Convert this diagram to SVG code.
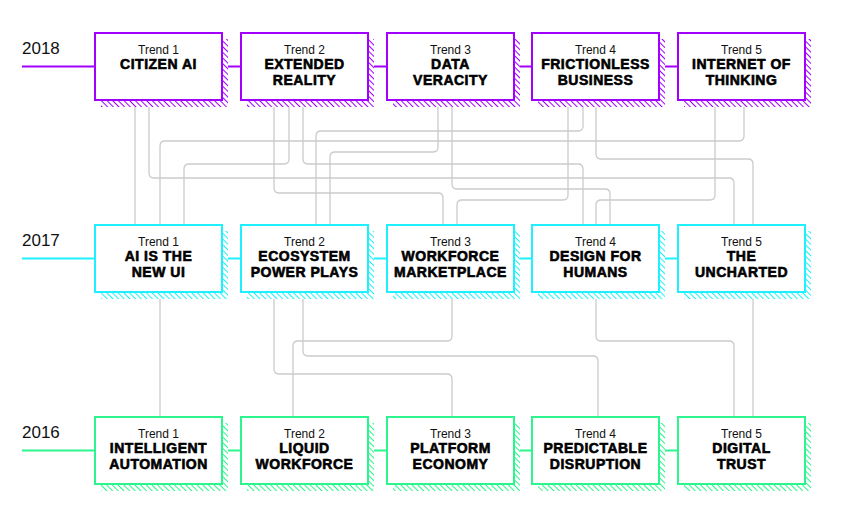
<svg xmlns="http://www.w3.org/2000/svg" width="841" height="515" viewBox="0 0 841 515">
<defs>
<pattern id="hp" patternUnits="userSpaceOnUse" width="4" height="4" patternTransform="rotate(-45)"><line x1="0" y1="0" x2="0" y2="4" stroke="#a100ff" stroke-width="2"/></pattern>
<pattern id="hc" patternUnits="userSpaceOnUse" width="4" height="4" patternTransform="rotate(-45)"><line x1="0" y1="0" x2="0" y2="4" stroke="#1ef0ff" stroke-width="2"/></pattern>
<pattern id="hg" patternUnits="userSpaceOnUse" width="4" height="4" patternTransform="rotate(-45)"><line x1="0" y1="0" x2="0" y2="4" stroke="#2cf58e" stroke-width="2"/></pattern>
</defs>
<style>
.yr{font-family:"Liberation Sans",Arial,sans-serif;font-size:17px;fill:#111}
.lbl{font-family:"Liberation Sans",Arial,sans-serif;text-anchor:middle}
.tr{font-size:12px;fill:#111}
.tt{font-size:14px;letter-spacing:0.5px;font-weight:bold;fill:#000;stroke:#000;stroke-width:0.6}
.box{fill:#fff;stroke-width:2}
.p .box{stroke:#a100ff}.p .sh{fill:url(#hp)}
.c .box{stroke:#1ef0ff}.c .sh{fill:url(#hc)}
.g .box{stroke:#2cf58e}.g .sh{fill:url(#hg)}
.cn path{fill:none;stroke:#cbcbcb;stroke-width:1.3}
.lp{stroke:#a100ff;stroke-width:2}.lc{stroke:#1ef0ff;stroke-width:2}.lg{stroke:#2cf58e;stroke-width:2}
</style>
<rect width="841" height="515" fill="#fff"/>
<g id="years">
<text class="yr" x="22" y="54">2018</text>
<text class="yr" x="22" y="246">2017</text>
<text class="yr" x="22" y="438">2016</text>
</g>
<g id="timelines">
<path class="lp" d="M22 66.5H95M228 66.5H241M374 66.5H387M520 66.5H532M665 66.5H678"/>
<path class="lc" d="M22 258.5H95M228 258.5H241M374 258.5H387M520 258.5H532M665 258.5H678"/>
<path class="lg" d="M22 450.5H95M228 450.5H241M374 450.5H387M520 450.5H532M665 450.5H678"/>
</g>
<g id="connectors" class="cn">
<path d="M135 107V225"/>
<path d="M149 107V173Q149 178 154 178H729Q734 178 734 183V225"/>
<path d="M274 107V188Q274 193 279 193H438Q443 193 443 198V225"/>
<path d="M289 107V159Q289 164 284 164H189Q184 164 184 169V225"/>
<path d="M303 107V159Q303 164 308 164H578Q583 164 583 169V225"/>
<path d="M438 107V147Q438 152 433 152H335Q330 152 330 157V225"/>
<path d="M452 107V184Q452 189 457 189H605Q610 189 610 194V225"/>
<path d="M568 107V195Q568 200 563 200H462Q457 200 457 205V225"/>
<path d="M583 107V126Q583 131 578 131H321Q316 131 316 136V225"/>
<path d="M596 107V154Q596 159 601 159H748Q753 159 753 164V225"/>
<path d="M715 107V195Q715 200 710 200H601Q596 200 596 205V225"/>
<path d="M744 107V136Q744 141 739 141H165Q160 141 160 146V225"/>
<path d="M160 299V417"/>
<path d="M274 299V369Q274 374 279 374H447Q452 374 452 379V417"/>
<path d="M303 299V351Q303 356 308 356H593Q598 356 598 361V417"/>
<path d="M452 299V336Q452 341 447 341H298Q293 341 293 346V417"/>
<path d="M596 299V336Q596 341 601 341H729Q734 341 734 346V417"/>
<path d="M753 299V417"/>
</g>
<g id="n2018-1" class="p"><rect class="sh" x="101" y="39" width="127" height="68"/><rect class="box" x="95" y="33" width="127" height="67"/><text class="lbl" x="158.5" y="53.5"><tspan class="tr">Trend 1</tspan><tspan class="tt" x="158.5" y="69.3">CITIZEN AI</tspan></text></g>
<g id="n2018-2" class="p"><rect class="sh" x="247" y="39" width="127" height="68"/><rect class="box" x="241" y="33" width="127" height="67"/><text class="lbl" x="304.5" y="53.5"><tspan class="tr">Trend 2</tspan><tspan class="tt" x="304.5" y="69.3">EXTENDED</tspan><tspan class="tt" x="304.5" y="84.9">REALITY</tspan></text></g>
<g id="n2018-3" class="p"><rect class="sh" x="393" y="39" width="127" height="68"/><rect class="box" x="387" y="33" width="127" height="67"/><text class="lbl" x="450.5" y="53.5"><tspan class="tr">Trend 3</tspan><tspan class="tt" x="450.5" y="69.3">DATA</tspan><tspan class="tt" x="450.5" y="84.9">VERACITY</tspan></text></g>
<g id="n2018-4" class="p"><rect class="sh" x="538" y="39" width="127" height="68"/><rect class="box" x="532" y="33" width="127" height="67"/><text class="lbl" x="595.5" y="53.5"><tspan class="tr">Trend 4</tspan><tspan class="tt" x="595.5" y="69.3">FRICTIONLESS</tspan><tspan class="tt" x="595.5" y="84.9">BUSINESS</tspan></text></g>
<g id="n2018-5" class="p"><rect class="sh" x="684" y="39" width="127" height="68"/><rect class="box" x="678" y="33" width="127" height="67"/><text class="lbl" x="741.5" y="53.5"><tspan class="tr">Trend 5</tspan><tspan class="tt" x="741.5" y="69.3">INTERNET OF</tspan><tspan class="tt" x="741.5" y="84.9">THINKING</tspan></text></g>
<g id="n2017-1" class="c"><rect class="sh" x="101" y="231" width="127" height="68"/><rect class="box" x="95" y="225" width="127" height="67"/><text class="lbl" x="158.5" y="245.5"><tspan class="tr">Trend 1</tspan><tspan class="tt" x="158.5" y="261.3">AI IS THE</tspan><tspan class="tt" x="158.5" y="276.9">NEW UI</tspan></text></g>
<g id="n2017-2" class="c"><rect class="sh" x="247" y="231" width="127" height="68"/><rect class="box" x="241" y="225" width="127" height="67"/><text class="lbl" x="304.5" y="245.5"><tspan class="tr">Trend 2</tspan><tspan class="tt" x="304.5" y="261.3">ECOSYSTEM</tspan><tspan class="tt" x="304.5" y="276.9">POWER PLAYS</tspan></text></g>
<g id="n2017-3" class="c"><rect class="sh" x="393" y="231" width="127" height="68"/><rect class="box" x="387" y="225" width="127" height="67"/><text class="lbl" x="450.5" y="245.5"><tspan class="tr">Trend 3</tspan><tspan class="tt" x="450.5" y="261.3">WORKFORCE</tspan><tspan class="tt" x="450.5" y="276.9">MARKETPLACE</tspan></text></g>
<g id="n2017-4" class="c"><rect class="sh" x="538" y="231" width="127" height="68"/><rect class="box" x="532" y="225" width="127" height="67"/><text class="lbl" x="595.5" y="245.5"><tspan class="tr">Trend 4</tspan><tspan class="tt" x="595.5" y="261.3">DESIGN FOR</tspan><tspan class="tt" x="595.5" y="276.9">HUMANS</tspan></text></g>
<g id="n2017-5" class="c"><rect class="sh" x="684" y="231" width="127" height="68"/><rect class="box" x="678" y="225" width="127" height="67"/><text class="lbl" x="741.5" y="245.5"><tspan class="tr">Trend 5</tspan><tspan class="tt" x="741.5" y="261.3">THE</tspan><tspan class="tt" x="741.5" y="276.9">UNCHARTED</tspan></text></g>
<g id="n2016-1" class="g"><rect class="sh" x="101" y="423" width="127" height="68"/><rect class="box" x="95" y="417" width="127" height="67"/><text class="lbl" x="158.5" y="437.5"><tspan class="tr">Trend 1</tspan><tspan class="tt" x="158.5" y="453.3">INTELLIGENT</tspan><tspan class="tt" x="158.5" y="468.9">AUTOMATION</tspan></text></g>
<g id="n2016-2" class="g"><rect class="sh" x="247" y="423" width="127" height="68"/><rect class="box" x="241" y="417" width="127" height="67"/><text class="lbl" x="304.5" y="437.5"><tspan class="tr">Trend 2</tspan><tspan class="tt" x="304.5" y="453.3">LIQUID</tspan><tspan class="tt" x="304.5" y="468.9">WORKFORCE</tspan></text></g>
<g id="n2016-3" class="g"><rect class="sh" x="393" y="423" width="127" height="68"/><rect class="box" x="387" y="417" width="127" height="67"/><text class="lbl" x="450.5" y="437.5"><tspan class="tr">Trend 3</tspan><tspan class="tt" x="450.5" y="453.3">PLATFORM</tspan><tspan class="tt" x="450.5" y="468.9">ECONOMY</tspan></text></g>
<g id="n2016-4" class="g"><rect class="sh" x="538" y="423" width="127" height="68"/><rect class="box" x="532" y="417" width="127" height="67"/><text class="lbl" x="595.5" y="437.5"><tspan class="tr">Trend 4</tspan><tspan class="tt" x="595.5" y="453.3">PREDICTABLE</tspan><tspan class="tt" x="595.5" y="468.9">DISRUPTION</tspan></text></g>
<g id="n2016-5" class="g"><rect class="sh" x="684" y="423" width="127" height="68"/><rect class="box" x="678" y="417" width="127" height="67"/><text class="lbl" x="741.5" y="437.5"><tspan class="tr">Trend 5</tspan><tspan class="tt" x="741.5" y="453.3">DIGITAL</tspan><tspan class="tt" x="741.5" y="468.9">TRUST</tspan></text></g>
</svg>
